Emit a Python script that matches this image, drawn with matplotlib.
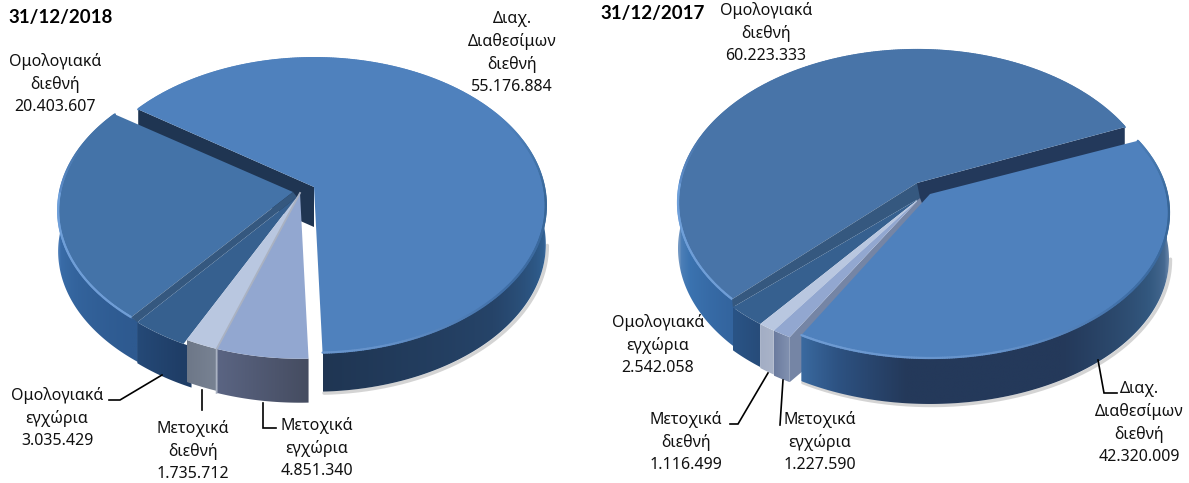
import numpy as np
import matplotlib
matplotlib.use("Agg")
import matplotlib.pyplot as plt
from matplotlib.collections import LineCollection
from matplotlib.colors import to_rgb
from matplotlib.patches import Polygon

plt.rcParams['font.family'] = ['Noto Sans', 'DejaVu Sans']

# data, clockwise from the exploded slice
names = ["Διαχ.\nΔιαθεσίμων\nδιεθνή", "Μετοχικά\nεγχώρια", "Μετοχικά\nδιεθνή",
         "Ομολογιακά\nεγχώρια", "Ομολογιακά\nδιεθνή"]
values_2018 = [55176884, 4851340, 1735712, 3035429, 20403607]
values_2017 = [42320009, 1227590, 1116499, 2542058, 60223333]
titles = ["31/12/2018", "31/12/2017"]

# slice colours: top surface, side gradient as (angle, colour)
top_colors = ["#4f81bd", "#92a7d0", "#b9c7e0", "#36608f", "#4473a8"]
side_left = [
    [(0, "#3f6fa3"), (-20, "#2f5c8c"), (-45, "#264469"), (-90, "#1f3552")],
    [(-88, "#454c60"), (-108, "#5a6482")],
    [(-108, "#7a8494"), (-116, "#6d7788")],
    [(-116, "#1f3d66"), (-129, "#254a78")],
    [(-129, "#2e5a90"), (-150, "#33639c"), (-170, "#3c70ad"), (-180, "#5a8ac4")],
]
side_right = [
    [(0, "#7f97b5"), (-12, "#4f7199"), (-30, "#33587f"), (-60, "#24395a"),
     (-95, "#24395a"), (-110, "#2d5282"), (-119, "#3a6aa0")],
    [(-119, "#8191b0"), (-123, "#6a7a9e")],
    [(-123, "#a9b3c8"), (-127, "#a2adc4")],
    [(-127, "#274c7a"), (-135, "#2a5486")],
    [(-135, "#33649e"), (-155, "#3b73b0"), (-170, "#5c8abd"), (-180, "#8aa6c8")],
]

counter = [1]


def ax_order():
    counter[0] += 1
    return counter[0]


def project(theta, p):
    t = np.radians(theta)
    w = 1 + p["k"] * np.sin(t)
    return p["ax"] + p["A"] * np.cos(t) / w, p["ay"] - p["R"] * np.sin(t) / w


def shade(theta, stops):
    th = [s[0] for s in stops][::-1]
    cols = np.array([to_rgb(s[1]) for s in stops])[::-1]
    return [np.interp(theta, th, cols[:, i]) for i in range(3)]


def angles(values, start):
    sweep = np.array(values) / sum(values) * 360
    ends = start - np.cumsum(sweep)
    starts = np.r_[start, ends[:-1]]
    return starts, ends


def arc(a, b, p):
    th = np.linspace(a, b, int(abs(a - b) * 2) + 2)
    return th, *project(th, p)


def draw_side(ax, a, b, p, stops, extra=0):
    hi = min(a, 0) + extra
    lo = max(b, -180)
    if hi <= lo:
        return
    th, x, y = arc(hi, lo, p)
    d = p["d"]
    # horizontal gradient clipped to the side of the slice
    order = np.argsort(x)
    grid = np.linspace(x.min(), x.max(), 200)
    th_grid = np.interp(grid, x[order], th[order])
    img = np.array([[shade(t, stops) for t in th_grid]])
    im = ax.imshow(img, extent=[x.min(), x.max(), y.max() + d, y.min()], aspect="auto",
                   interpolation="bilinear", zorder=ax_order())
    clip = Polygon(np.c_[np.r_[x, x[::-1]], np.r_[y, y[::-1] + d]], transform=ax.transData)
    im.set_clip_path(clip)


def draw_top(ax, a, b, p, color):
    th, x, y = arc(a, b, p)
    ax.fill(np.r_[p["ax"], x], np.r_[p["ay"], y], color=color, lw=0, zorder=ax_order())


def draw_rim(ax, a, b, p, color):
    # lighter bevel on the front edge, darker towards the right, none at the back
    th, x, y = arc(a, b, p)
    segs = [[(x[i], y[i]), (x[i + 1], y[i + 1])] for i in range(len(th) - 1)]
    cols = []
    for t in th[:-1]:
        t = (t + 180) % 360 - 180
        cols.append(shade(t, [(180, "#5d8cc8"), (160, color), (30, color), (8, "#4273a8"),
                              (-5, "#376596"), (-40, "#3f6ea6"), (-75, "#6592ca"),
                              (-120, "#6f9cd4"), (-180, "#6fa0da")]))
    ax.add_collection(LineCollection(segs, colors=cols, linewidths=1.6, capstyle="round",
                                     zorder=ax_order()))


def draw_wall(ax, a_deg, p, d, color, shift=0, foot=None):
    x, y = project(a_deg, p)
    xs = [p["ax"], x]
    ys = [p["ay"], y]
    if foot:
        xs.append(x)
        ys.append(y + foot)
    xs += [x + shift, p["ax"] + shift]
    ys += [y + d, p["ay"] + d]
    ax.fill(xs, ys, color=color, lw=0, zorder=ax_order())


def draw_band(ax, a_deg, p1, p2, color):
    x1, y1 = project(a_deg, p1)
    x2, y2 = project(a_deg, p2)
    ax.fill([p1["ax"], x1, x2, p2["ax"]], [p1["ay"], y1, y2, p2["ay"]], color=color, lw=0,
            zorder=ax_order())


def draw_shadow(ax, a, b, p):
    th, x, y = arc(a, b, p)
    ax.plot(x + 1.5, y + p["d"] + 1.5, color="#b8b8b8", lw=2.5, alpha=0.6,
            solid_capstyle="round", zorder=ax_order())


fig = plt.figure(figsize=(11.89, 4.83), dpi=100)
ax = fig.add_axes([0, 0, 1, 1])

# 2018 pie
k1 = 0.125
pl = [
    dict(ax=314, ay=187, A=230, R=145, k=k1, d=39),
    dict(ax=300, ay=193, A=230, R=145, k=k1, d=44),
    dict(ax=300, ay=193, A=230, R=145, k=k1, d=42),
    dict(ax=297, ay=197, A=230, R=145, k=k1, d=41),
    dict(ax=293, ay=192, A=233, R=145, k=k1, d=41),
]
s18, e18 = angles(values_2018, 145)
draw_shadow(ax, -7, e18[0], pl[0])
draw_wall(ax, s18[0], pl[0], 40, "#1f3552")
draw_side(ax, s18[4], e18[4], pl[4], side_left[4], extra=2)
draw_side(ax, s18[3], e18[3], pl[3], side_left[3], extra=2)
for i in [2, 1]:
    draw_side(ax, s18[i], e18[i], pl[i], side_left[i])
draw_top(ax, s18[4], e18[4], pl[4], top_colors[4])
draw_rim(ax, s18[4], e18[4], pl[4], top_colors[4])
draw_band(ax, s18[4], pl[4], pl[3], "#35587f")
for i in [3, 2, 1]:
    draw_top(ax, s18[i], e18[i], pl[i], top_colors[i])
x_sep, y_sep = project(s18[2], pl[2])
ax.plot([pl[2]["ax"], x_sep, x_sep], [pl[2]["ay"], y_sep, y_sep + pl[2]["d"] + 2],
        color="#aab2c2", lw=1.3, zorder=ax_order())
draw_side(ax, s18[0], e18[0], pl[0], side_left[0])
draw_top(ax, s18[0], e18[0], pl[0], top_colors[0])
draw_rim(ax, s18[0], e18[0], pl[0], top_colors[0])

# 2017 pie
k2 = 0.128
pr = [
    dict(ax=930, ay=194, A=237, R=143, k=k2, d=46),
    dict(ax=920, ay=198, A=240, R=141, k=k2, d=45),
    dict(ax=920, ay=198, A=240, R=141, k=k2, d=44),
    dict(ax=920, ay=198, A=240, R=141, k=k2, d=43),
    dict(ax=917, ay=183, A=237, R=150, k=k2, d=46),
]
s17, e17 = angles(values_2017, 23)
draw_shadow(ax, -7, e17[0], pr[0])
draw_wall(ax, e17[4], pr[4], 40, "#23395b")
draw_side(ax, s17[4], e17[4], pr[4], side_right[4], extra=1)
draw_top(ax, s17[4], e17[4], pr[4], "#4874a8")
draw_rim(ax, s17[4], e17[4], pr[4], "#4874a8")
draw_band(ax, s17[4], pr[4], pr[3], "#35587f")
for i in [3, 2, 1]:
    draw_side(ax, s17[i], e17[i], pr[i], side_right[i])
draw_wall(ax, s17[1], pr[1], 34, "#7585a5", shift=13, foot=45)
for i in [3, 2, 1]:
    draw_top(ax, s17[i], e17[i], pr[i], top_colors[i])
draw_side(ax, s17[0], e17[0], pr[0], side_right[0])
draw_top(ax, s17[0], e17[0], pr[0], top_colors[0])
draw_rim(ax, s17[0], e17[0], pr[0], top_colors[0])

# leader lines
leaders = [
    ([162, 120, 109], [375, 400, 400]),
    ([202, 202], [390, 410]),
    ([263, 263, 276], [403, 428, 428]),
    ([768, 738, 730], [373, 424, 424]),
    ([783, 780], [380, 425]),
    ([1098, 1104, 1117], [360, 393, 393]),
]
for lx, ly in leaders:
    ax.plot(lx, ly, color="black", lw=1.2, solid_joinstyle="miter", zorder=ax_order())


def fmt(v):
    return f"{v:,}".replace(",", ".")


def label(x, y, i, values):
    ax.text(x, y, names[i] + "\n" + fmt(values[i]), ha="center", va="center",
            fontsize=11.5, color="#111111", linespacing=1.46, zorder=500)


ax.text(8, 18, titles[0], fontsize=13.5, fontweight="bold", family="Lato", va="center", color="black")
ax.text(600, 13, titles[1], fontsize=13.5, fontweight="bold", family="Lato", va="center", color="black")

label(512, 53, 0, values_2018)
label(55, 84, 4, values_2018)
label(57, 418, 3, values_2018)
label(193, 451, 2, values_2018)
label(317, 448, 1, values_2018)

label(766, 33, 4, values_2017)
label(658, 345, 3, values_2017)
label(686, 442, 2, values_2017)
label(820, 442, 1, values_2017)
label(1139, 423, 0, values_2017)

ax.set_xlim(0, 1189)
ax.set_ylim(483, 0)
ax.axis("off")
fig.savefig("out.png", dpi=100)
